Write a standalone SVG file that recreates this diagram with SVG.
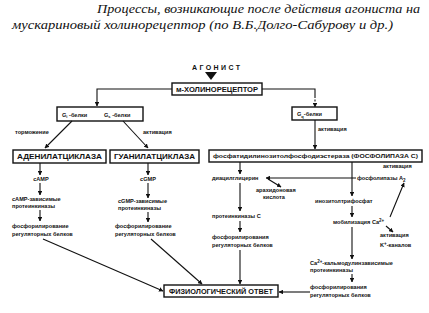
<svg xmlns="http://www.w3.org/2000/svg" width="429" height="313" viewBox="0 0 429 313">
<defs>
<marker id="ah" viewBox="0 0 10 10" refX="9" refY="5" markerWidth="4.5" markerHeight="4.5" orient="auto" markerUnits="userSpaceOnUse">
<path d="M0,0 L10,5 L0,10 z" fill="#111"/>
</marker>
</defs>
<style>
.title{font-family:"Liberation Serif",serif;font-style:italic;font-size:13px;fill:#111}
.t{font-family:"Liberation Sans",Arial,sans-serif;font-size:5.6px;font-weight:bold;fill:#111}
.b{font-family:"Liberation Sans",Arial,sans-serif;font-size:7px;font-weight:bold;fill:#111}
.box{fill:#fff;stroke:#111;stroke-width:1.4}
.c{stroke:#111;stroke-width:1.1;fill:none;marker-end:url(#ah)}
.n{stroke:#111;stroke-width:1.1;fill:none}
</style>
<rect width="429" height="313" fill="#fff"/>
<text class="title" x="420" y="13" text-anchor="end" textLength="323" lengthAdjust="spacingAndGlyphs">Процессы, возникающие после действия агониста на</text>
<text class="title" x="12" y="29" textLength="381" lengthAdjust="spacingAndGlyphs">мускариновый холинорецептор (по  В.Б.Долго-Сабурову и др.)</text>

<g id="agonist">
<text class="b" x="192" y="70" textLength="48" lengthAdjust="spacing">АГОНИСТ</text>
<path d="M205,72 L217,72 L211,80 z" fill="#111"/>
</g>
<g id="receptor">
<rect class="box" x="172" y="83" width="90" height="12"/>
<text class="b" x="217" y="91.5" text-anchor="middle" textLength="82" lengthAdjust="spacingAndGlyphs">м-ХОЛИНОРЕЦЕПТОР</text>
</g>
<g id="gigs">
<rect class="box" x="57" y="107" width="86" height="14"/>
<text class="t" x="62" y="116.5">G<tspan font-size="4" dy="1.5">i</tspan><tspan dy="-1.5"> -белки</tspan></text>
<text class="t" x="104" y="116.5">G<tspan font-size="4" dy="1.5">s</tspan><tspan dy="-1.5"> -белки</tspan></text>
</g>
<g id="gq">
<rect class="box" x="292" y="107" width="45" height="13"/>
<text class="t" x="297" y="116">G<tspan font-size="4" dy="1.5">q</tspan><tspan dy="-1.5">-белки</tspan></text>
</g>
<g id="adenylate">
<rect class="box" x="13" y="150" width="93" height="13"/>
<text class="b" x="59.5" y="159" text-anchor="middle" textLength="85" lengthAdjust="spacingAndGlyphs">АДЕНИЛАТЦИКЛАЗА</text>
</g>
<g id="guanylate">
<rect class="box" x="110" y="150" width="89" height="13"/>
<text class="b" x="154.5" y="159" text-anchor="middle" textLength="81" lengthAdjust="spacingAndGlyphs">ГУАНИЛАТЦИКЛАЗА</text>
</g>
<g id="plc">
<rect class="box" x="209" y="150" width="213" height="12"/>
<text class="t" x="213" y="158.3" textLength="205" lengthAdjust="spacingAndGlyphs">фосфатидилинозитолфосфодиэстераза (ФОСФОЛИПАЗА С)</text>
</g>
<g id="response">
<rect class="box" x="164" y="285" width="114" height="12" stroke-width="2"/>
<text class="b" x="221" y="293.5" text-anchor="middle" textLength="104" lengthAdjust="spacingAndGlyphs">ФИЗИОЛОГИЧЕСКИЙ ОТВЕТ</text>
</g>

<g id="labels">
<text class="t" x="15" y="134">торможение</text>
<text class="t" x="143" y="134">активация</text>
<text class="t" x="318" y="131">активация</text>

<text class="t" x="41" y="180.5" text-anchor="middle">cAMP</text>
<text class="t" x="12" y="201">cAMP-зависимые</text>
<text class="t" x="12" y="207.5">протеинкиназы</text>
<text class="t" x="12" y="228">фосфорилирование</text>
<text class="t" x="12" y="236">регуляторных белков</text>

<text class="t" x="148" y="180.5" text-anchor="middle">cGMP</text>
<text class="t" x="118" y="203">cGMP-зависимые</text>
<text class="t" x="118" y="210">протеинкиназы</text>
<text class="t" x="115" y="228">фосфорилирование</text>
<text class="t" x="115" y="236">регуляторных белков</text>

<text class="t" x="212" y="180">диацилглицерин</text>
<text class="t" x="256" y="192">арахидоновая</text>
<text class="t" x="263" y="199">кислота</text>
<text class="t" x="212" y="218">протеинкиназы С</text>
<text class="t" x="212" y="239">фосфорилирования</text>
<text class="t" x="212" y="247">регуляторных белков</text>

<text class="t" x="383" y="168">активация</text>
<text class="t" x="357" y="180">фосфолипазы A<tspan font-size="4.5" dy="2">2</tspan></text>
<text class="t" x="315" y="203">инозитолтрифосфат</text>
<text class="t" x="333" y="224">мобилизация Ca<tspan font-size="4.5" dy="-2.5">2+</tspan></text>
<text class="t" x="380" y="237">активация</text>
<text class="t" x="380" y="247">K<tspan font-size="4.5" dy="-2.5">+</tspan><tspan dy="2.5">-каналов</tspan></text>
<text class="t" x="310" y="265">Ca<tspan font-size="4.5" dy="-2.5">2+</tspan><tspan dy="2.5">-кальмодулинзависимые</tspan></text>
<text class="t" x="310" y="272">протеинкиназы</text>
<text class="t" x="310" y="289">фосфорилирования</text>
<text class="t" x="310" y="297">регуляторных белков</text>
</g>

<g id="connectors">
<path class="c" d="M172,89 H97 V106"/>
<path class="n" d="M262,89 H315 V96"/>
<path class="c" d="M315,96 V107" stroke-dasharray="2,1.5"/>
<path class="c" d="M72,121 L45,148"/>
<path class="c" d="M123,121 L148,148"/>
<path class="c" d="M315,120 V149"/>

<path class="c" d="M40,163 V175"/>
<path class="c" d="M40,183 V195"/>
<path class="c" d="M40,210 V221"/>
<path class="c" d="M148,163 V175"/>
<path class="c" d="M148,183 V198"/>
<path class="c" d="M148,212 V222"/>
<path class="c" d="M43,239 L163,291"/>
<path class="c" d="M151,239 L202,284"/>

<path class="c" d="M240,162 V174"/>
<path class="c" d="M240,183 V211"/>
<path class="c" d="M240,221 V232"/>
<path class="c" d="M240,250 V284"/>
<path class="c" d="M356,178 H266"/>
<path class="c" d="M268,179 L281,187"/>

<path class="c" d="M352,162 V196"/>
<path class="c" d="M352,206 V217"/>
<path class="c" d="M352,227 V259"/>
<path class="c" d="M352,274 V282"/>
<path class="c" d="M310,292 H279"/>
<path class="c" d="M390,217 L404,183"/>
<path class="c" d="M386,226 L393,232"/>
</g>
</svg>
